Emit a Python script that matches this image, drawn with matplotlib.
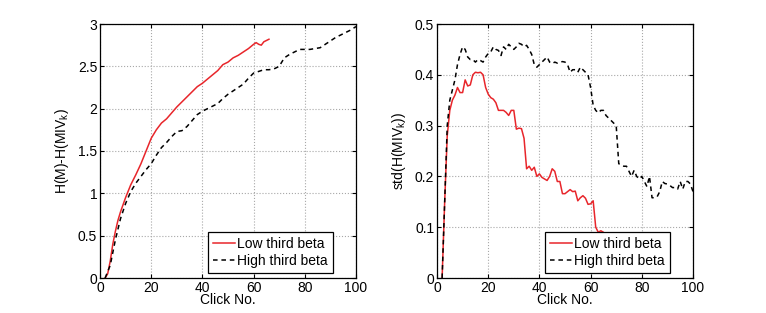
import matplotlib.pyplot as plt

plt.rcParams['font.family'] = ['Liberation Sans', 'DejaVu Sans']
plt.rcParams['mathtext.fontset'] = 'custom'
plt.rcParams['mathtext.rm'] = 'Liberation Sans'

# left panel: H(M)-H(MIV_k)
low_x = [2, 3, 4, 5, 6, 7, 8, 10, 12, 14, 16, 18, 20, 22, 24, 26, 28, 30, 32, 34,
         36, 38, 40, 42, 44, 46, 48, 50, 52, 54, 56, 58, 60, 61, 62, 63, 64, 66]
low_h = [0, 0.05, 0.2, 0.4, 0.55, 0.68, 0.78, 0.95, 1.1, 1.22, 1.35, 1.5, 1.65, 1.75,
         1.83, 1.88, 1.95, 2.02, 2.08, 2.14, 2.2, 2.26, 2.3, 2.35, 2.4, 2.45, 2.52, 2.55,
         2.6, 2.63, 2.67, 2.71, 2.76, 2.78, 2.76, 2.75, 2.79, 2.82]
high_x = [2, 4, 6, 8, 10, 12, 14, 16, 18, 20, 22, 24, 26, 28, 30, 32, 34, 36, 38, 40,
          42, 44, 46, 48, 50, 52, 54, 56, 58, 60, 62, 64, 66, 68, 70, 72, 74, 76, 78, 80,
          82, 84, 86, 88, 90, 92, 94, 96, 98, 100]
high_h = [0, 0.15, 0.45, 0.7, 0.88, 1.02, 1.12, 1.2, 1.28, 1.35, 1.45, 1.54, 1.6, 1.67,
          1.73, 1.74, 1.79, 1.86, 1.93, 1.97, 2.0, 2.03, 2.06, 2.12, 2.17, 2.21, 2.25, 2.29,
          2.36, 2.42, 2.44, 2.46, 2.46, 2.47, 2.5, 2.6, 2.64, 2.67, 2.7, 2.7, 2.7, 2.71,
          2.72, 2.76, 2.8, 2.84, 2.87, 2.9, 2.93, 2.97]

# right panel: std(H(MIV_k)), one value per click
low_sx = list(range(2, 67))
low_std = [0, 0.15, 0.28, 0.33, 0.35, 0.36, 0.375, 0.365, 0.365, 0.39, 0.378, 0.38,
           0.40, 0.405, 0.404, 0.405, 0.40, 0.375, 0.362, 0.355, 0.352, 0.345, 0.33,
           0.33, 0.33, 0.326, 0.32, 0.33, 0.33, 0.293, 0.295, 0.294, 0.275, 0.215, 0.22,
           0.212, 0.218, 0.2, 0.205, 0.198, 0.195, 0.192, 0.2, 0.215, 0.21, 0.19, 0.19,
           0.166, 0.166, 0.17, 0.174, 0.17, 0.171, 0.152, 0.158, 0.162, 0.157, 0.145,
           0.146, 0.152, 0.1, 0.09, 0.093, 0.09, 0.085]
high_sx = list(range(2, 101))
high_std = [0, 0.15, 0.3, 0.35, 0.37, 0.39, 0.42, 0.44, 0.455, 0.45, 0.435, 0.43, 0.43,
            0.425, 0.43, 0.428, 0.425, 0.435, 0.442, 0.445, 0.455, 0.45, 0.448, 0.438,
            0.455, 0.45, 0.46, 0.455, 0.45, 0.455, 0.462, 0.46, 0.455, 0.458, 0.45, 0.44,
            0.42, 0.415, 0.42, 0.425, 0.43, 0.435, 0.425, 0.422, 0.425, 0.423, 0.425,
            0.426, 0.425, 0.42, 0.405, 0.41, 0.41, 0.405, 0.415, 0.41, 0.405, 0.40, 0.375,
            0.34, 0.33, 0.325, 0.33, 0.33, 0.32, 0.315, 0.31, 0.305, 0.3, 0.225, 0.222,
            0.22, 0.22, 0.21, 0.2, 0.212, 0.2, 0.195, 0.2, 0.19, 0.18, 0.2, 0.158, 0.158,
            0.16, 0.17, 0.19, 0.186, 0.185, 0.182, 0.178, 0.178, 0.175, 0.19, 0.175, 0.19,
            0.19, 0.185, 0.17]

fig = plt.figure(figsize=(7.66, 3.13), dpi=100)
ax1 = fig.add_axes([100 / 766, 1 - 278 / 313, 256 / 766, 254 / 313])
ax2 = fig.add_axes([437 / 766, 1 - 278 / 313, 256 / 766, 254 / 313])

panels = [
    (ax1, low_x, low_h, high_x, high_h, 3, [0, 0.5, 1, 1.5, 2, 2.5, 3],
     ['0', '0.5', '1', '1.5', '2', '2.5', '3'], r'H(M)-H(MIV$_\mathrm{k}$)'),
    (ax2, low_sx, low_std, high_sx, high_std, 0.5, [0, 0.1, 0.2, 0.3, 0.4, 0.5],
     ['0', '0.1', '0.2', '0.3', '0.4', '0.5'], r'std(H(MIV$_\mathrm{k}$))'),
]

for ax, lx, ly, hx, hy, ymax, yt, ytl, ylab in panels:
    ax.plot(lx, ly, color='#e8262b', lw=1.1, label='Low third beta')
    ax.plot(hx, hy, color='black', lw=1.1, ls=(0, (3, 2.5)), label='High third beta')
    ax.set_xlim(0, 100)
    ax.set_ylim(0, ymax)
    ax.set_xticks([0, 20, 40, 60, 80, 100])
    ax.set_yticks(yt)
    ax.set_yticklabels(ytl)
    ax.grid(True, color='#a8a8a8', ls=':', lw=0.8)
    ax.tick_params(direction='in', top=True, right=True, length=3, labelsize=10, pad=2)
    ax.set_xlabel('Click No.', fontsize=10, labelpad=-1)
    ax.set_ylabel(ylab, fontsize=10, labelpad=5)
    for s in ax.spines.values():
        s.set_linewidth(0.9)
    leg = ax.legend(loc='lower right', bbox_to_anchor=(0.91, 0.02), fontsize=10,
                    fancybox=False, framealpha=1, edgecolor='black', borderaxespad=0,
                    handlelength=1.6, handletextpad=0.15, borderpad=0.35,
                    labelspacing=0.25)
    leg.get_frame().set_linewidth(0.9)

fig.savefig('out.png', dpi=100)
